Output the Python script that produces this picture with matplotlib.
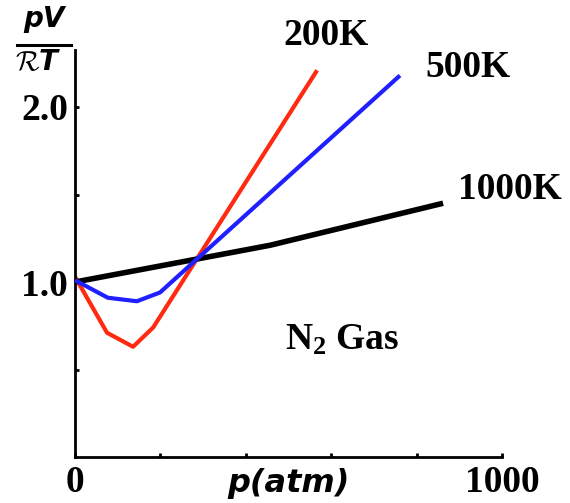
import matplotlib
matplotlib.use("Agg")
import matplotlib.pyplot as plt
from matplotlib.lines import Line2D

# Data (pressure in atm, compressibility pV/RT)
p_200 = [0, 75, 136, 183, 567]
z_200 = [1.03, 0.71, 0.63, 0.74, 2.21]

p_500 = [0, 77, 145, 199, 761]
z_500 = [1.01, 0.91, 0.89, 0.94, 2.18]

p_1000 = [0, 457, 862]
z_1000 = [1.0, 1.21, 1.45]

xticks = [0, 200, 400, 600, 800, 1000]
xticklabels = ["0", "", "", "", "", "1000"]
yticks = [0.5, 1.0, 1.5, 2.0]
yticklabels = ["", "1.0", "", "2.0"]

W, H = 570, 503
fig = plt.figure(figsize=(W / 100, H / 100), dpi=100)
ax = fig.add_axes([75 / W, 1 - 457 / H, (502 - 75) / W, (457 - 50) / H])

ax.plot(p_1000, z_1000, color="black", lw=4.0, solid_capstyle="butt", zorder=3)
ax.plot(p_200, z_200, color="#ff2a10", lw=3.0, solid_capstyle="butt", zorder=2)
ax.plot(p_500, z_500, color="#2020ff", lw=3.0, solid_capstyle="butt", zorder=4)

ax.set_xlim(0, 1000)
ax.set_ylim(0, (457 - 50) / 175)
for s in ["top", "right"]:
    ax.spines[s].set_visible(False)
for s in ["left", "bottom"]:
    ax.spines[s].set_linewidth(2)

serif = dict(family="Liberation Serif", weight="bold")
ax.set_xticks(xticks)
ax.set_xticklabels(xticklabels, fontsize=27, **serif)
ax.set_yticks(yticks)
ax.set_yticklabels(yticklabels, fontsize=27, **serif)
ax.tick_params(axis="both", direction="in", length=3, width=2)
ax.tick_params(axis="x", pad=6)
ax.tick_params(axis="y", pad=5)

# curve labels
ax.text(487, 2.406, "200K", fontsize=27, va="center", ha="left", clip_on=False, **serif)
ax.text(820, 2.223, "500K", fontsize=27, va="center", ha="left", clip_on=False, **serif)
ax.text(897, 1.526, "1000K", fontsize=27, va="center", ha="left", clip_on=False, **serif)

plt.rcParams["mathtext.fontset"] = "custom"
plt.rcParams["mathtext.rm"] = "Liberation Serif:bold"
plt.rcParams["mathtext.bf"] = "Liberation Serif:bold"
ax.text(492, 0.611, r"$\mathrm{N_2}$ Gas", fontsize=27, va="baseline", ha="left", **serif)

# axis label
ax.text(501, -0.149, "p(atm)", fontsize=23, family="DejaVu Sans", weight="bold",
        style="italic", ha="center", va="center", clip_on=False)

# y label fraction
sans_bi = dict(family="DejaVu Sans", weight="bold", style="italic")
fig.text(44 / W, 1 - 27 / H, "pV", fontsize=20, ha="center", va="baseline", **sans_bi)
fig.add_artist(Line2D([17 / W, 71 / W], [1 - 45 / H, 1 - 45 / H], color="black", lw=2.2,
                      transform=fig.transFigure))
fig.text(38 / W, 1 - 70 / H, r"$\mathcal{R}$T", fontsize=20, ha="center", va="baseline",
         math_fontfamily="cm", **sans_bi)

fig.savefig("out.png", dpi=100)
